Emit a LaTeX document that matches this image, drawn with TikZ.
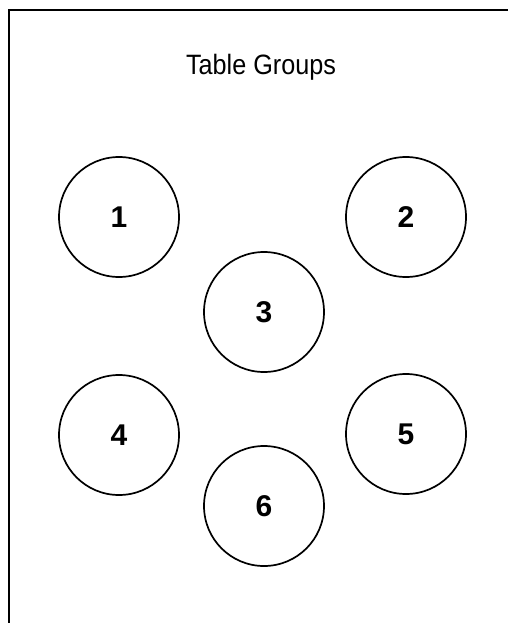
\documentclass[tikz,border=0pt]{standalone}
\usepackage{fontspec}
\setmainfont{Liberation Sans}
\newfontfamily\titlefont[FakeStretch=0.9]{Liberation Sans}
\begin{document}
\begin{tikzpicture}[x=1pt,y=-1pt,
  tablecircle/.style={circle,draw,line width=1.7pt,minimum size=120pt,inner sep=0pt,
    font=\fontsize{30}{30}\selectfont\bfseries}]
\useasboundingbox (0,0) rectangle (507,623);
\draw[line width=2.8pt] (9,623) -- (9,10) -- (510,10);
\node[font=\titlefont\fontsize{28}{28}\selectfont,anchor=base] (title) at (261,74.5) {Table Groups};
\node[tablecircle] (c1) at (119,217) {1};
\node[tablecircle] (c2) at (406,217) {2};
\node[tablecircle] (c3) at (264,312) {3};
\node[tablecircle] (c4) at (119,435) {4};
\node[tablecircle] (c5) at (406,434) {5};
\node[tablecircle] (c6) at (264,506) {6};
\end{tikzpicture}
\end{document}
